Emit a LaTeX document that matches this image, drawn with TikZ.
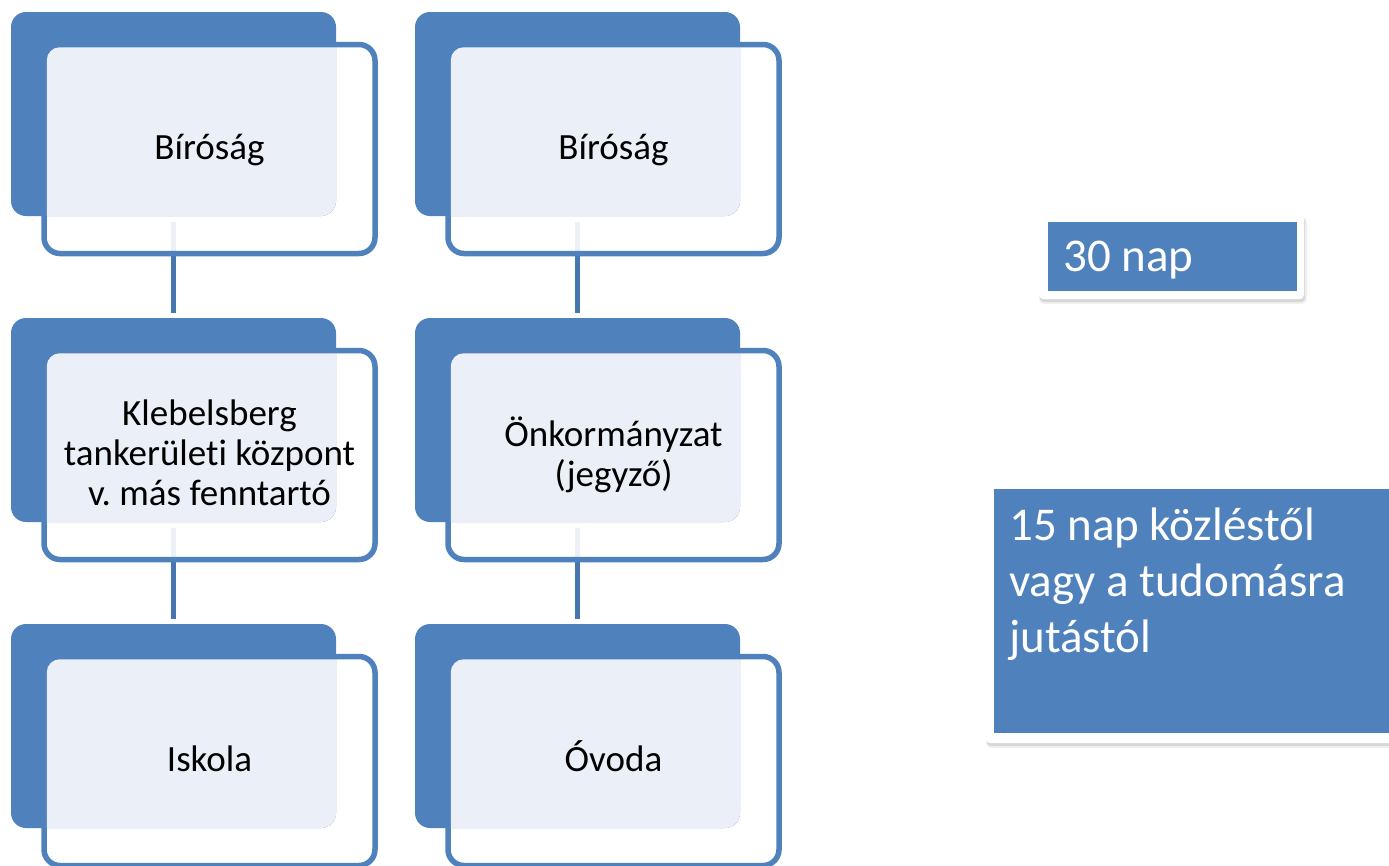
\documentclass[tikz,border=0pt]{standalone}
\usepackage{fontspec}
\setmainfont[Ligatures=NoCommon]{Carlito}
\usetikzlibrary{calc}
\definecolor{sablue}{HTML}{4F81BD}
\definecolor{salight}{HTML}{EBF0F8}
\definecolor{saline}{HTML}{4675B0}
\frenchspacing
\begin{document}
\begin{tikzpicture}[x=1pt,y=-1pt,
  backbox/.style={inner sep=0pt, outer sep=0pt, minimum width=325pt, minimum height=204pt},
  frontbox/.style={inner sep=0pt, outer sep=0pt, minimum width=331pt, minimum height=209pt},
  conn/.style={draw=saline, line width=5.5pt, shorten <=6pt, shorten >=5pt},
  frontdraw/.style={draw=sablue, fill=white, fill opacity=0.9, line width=5.5pt, rounded corners=16pt},
  lbl/.style={inner sep=0pt, font=\fontsize{37}{40}\selectfont, align=center, text=black, anchor=base},
  rlbl/.style={inner sep=0pt, font=\fontsize{47}{56}\selectfont, align=left, text=white, anchor=base west},
  whitebox/.style={inner sep=0pt, outer sep=0pt, fill=white, rounded corners=4pt},
  bluebox/.style={inner sep=0pt, outer sep=0pt, fill=sablue}]
\useasboundingbox (0,0) rectangle (1389,865);
\clip (0,0) rectangle (1389,865);
\fill[white] (0,0) rectangle (1389,865);
% placement nodes
\foreach \c in {0,1}{
  \foreach \r in {0,1,2}{
    \node[backbox] (b\r\c) at ({173.5+404*\c},{114+306*\r}) {};
    \node[frontbox] (f\r\c) at ({209.5+404*\c},{149+306*\r}) {};
  }
}
% connectors
\draw[conn] (b00.south) -- (b10.north);
\draw[conn] (b10.south) -- (b20.north);
\draw[conn] (b01.south) -- (b11.north);
\draw[conn] (b11.south) -- (b21.north);
% boxes
\foreach \c in {0,1}{
  \foreach \r in {0,1,2}{
    \path[frontdraw] (f\r\c.south west) rectangle (f\r\c.north east);
    \fill[sablue, rounded corners=15pt] (b\r\c.south west) rectangle (b\r\c.north east);
    \begin{scope}
      \clip[rounded corners=15pt] (b\r\c.south west) rectangle (b\r\c.north east);
      \fill[salight, rounded corners=13pt] ($(f\r\c.south west)+(2.75,-2.75)$) rectangle ($(f\r\c.north east)+(-2.75,2.75)$);
    \end{scope}
  }
}
% labels (base anchor = baseline of the last line)
\node[lbl] (t00) at ($(f00.center)+(0,10)$) {Bíróság};
\node[lbl] (t10) at ($(f10.center)+(0,50)$) {Klebelsberg\\tankerületi központ\\v. más fenntartó};
\node[lbl] (t20) at ($(f20.center)+(0,10)$) {Iskola};
\node[lbl] (t01) at ($(f01.center)+(0,10)$) {Bíróság};
\node[lbl] (t11) at ($(f11.center)+(0,31)$) {Önkormányzat\\(jegyző)};
\node[lbl] (t21) at ($(f21.center)+(0,10)$) {Óvoda};
% right boxes: shadows
\fill[black, opacity=0.06, rounded corners=5pt] (1039,217) rectangle (1307,304);
\fill[black, opacity=0.10, rounded corners=4pt] (1040,217) rectangle (1305,302);
\fill[black, opacity=0.06, rounded corners=5pt] (986,485) rectangle (1400,748);
\fill[black, opacity=0.10, rounded corners=4pt] (987,485) rectangle (1400,746);
\node[whitebox, minimum width=265pt, minimum height=85pt] (w30) at (1171.5,256.5) {};
\node[bluebox, minimum width=249pt, minimum height=69pt] (n30) at (1172.5,256.5) {};
\node[rlbl] (t30) at (1063,271) {30 nap};
\node[whitebox, minimum width=414pt, minimum height=261pt] (w15) at (1193,612.5) {};
\node[bluebox, minimum width=406pt, minimum height=244pt] (n15) at (1197,611) {};
\node[rlbl] (t15) at (1009,652) {15 nap közléstől\\vagy a tudomásra\\jutástól};
\end{tikzpicture}
\end{document}
